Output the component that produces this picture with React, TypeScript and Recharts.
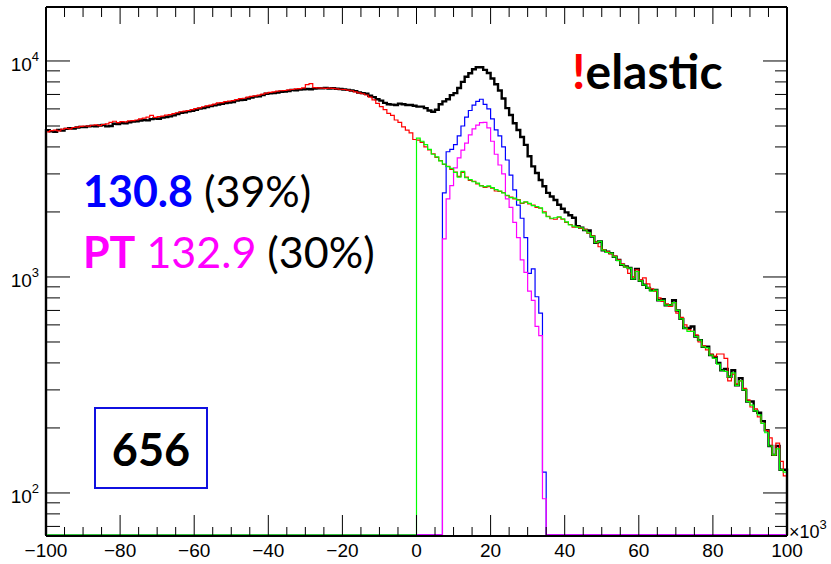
import React from "react";
import { ComposedChart, Line, XAxis, YAxis } from "recharts";

// histogram binning: 200 bins of width 1 (x10^3), lower edge of first bin
const FIRST_BIN = -100;
const LAST_EDGE = 100;

// total (black), bins -100 .. 99
const BLACK_COUNTS = [
  4780, 4720, 4700, 4800, 4760, 4850, 4880, 4860, 4920, 4950,
  4940, 4980, 5000, 4990, 5030, 5050, 4980, 5000, 5120, 5100,
  5160, 5140, 5200, 5240, 5260, 5300, 5330, 5310, 5380, 5420,
  5400, 5470, 5500, 5540, 5600, 5680, 5760, 5790, 5850, 5880,
  5950, 6020, 6050, 6120, 6180, 6240, 6290, 6330, 6390, 6420,
  6450, 6550, 6600, 6620, 6700, 6780, 6840, 6860, 6950, 7050,
  7080, 7100, 7150, 7200, 7220, 7260, 7340, 7320, 7380, 7400,
  7420, 7400, 7450, 7480, 7470, 7500, 7460, 7480, 7440, 7420,
  7380, 7350, 7300, 7250, 7150, 7100, 7050, 6900, 6800, 6650,
  6550, 6400, 6300, 6280, 6250, 6350, 6300, 6250, 6250, 6200,
  6150, 6150, 6050, 5900, 5820, 5950, 6300, 6500, 6650, 6950,
  7100, 7500, 8000, 8450, 8780, 9150, 9350, 9350, 9100, 8800,
  8300, 7800, 7300, 6700, 6050, 5620, 5150, 4790, 4450, 4090,
  3620, 3250, 3030, 2810, 2630, 2450, 2360, 2270, 2160, 2070,
  1990, 1930, 1880, 1720, 1690, 1650, 1640, 1540, 1440, 1460,
  1330, 1310, 1290, 1240, 1200, 1140, 1120, 1100, 980, 1090,
  960, 920, 890, 870, 870, 780, 790, 740, 740, 780,
  700, 640, 580, 580, 590, 530, 510, 475, 475, 435,
  425, 400, 370, 375, 345, 370, 315, 340, 300, 265,
  265, 240, 235, 215, 195, 165, 150, 165, 128, 128,
];

// red, bins -100 .. 99
const RED_COUNTS = [
  4700, 4760, 4790, 4750, 4840, 4880, 4850, 4920, 4940, 4980,
  5000, 4990, 5040, 5060, 5020, 5080, 5110, 5200, 5260, 5180,
  5240, 5220, 5280, 5300, 5330, 5400, 5440, 5500, 5600, 5480,
  5520, 5560, 5620, 5650, 5700, 5760, 5820, 5860, 5900, 5960,
  6020, 6060, 6140, 6200, 6240, 6310, 6400, 6420, 6480, 6520,
  6550, 6620, 6700, 6720, 6800, 6860, 6900, 6950, 7020, 7100,
  7150, 7200, 7250, 7280, 7300, 7350, 7380, 7420, 7450, 7500,
  7780, 7850, 7520, 7500, 7480, 7460, 7480, 7460, 7420, 7400,
  7380, 7330, 7280, 7200, 7120, 7050, 6960, 6800, 6600, 6370,
  6150, 5950, 5720, 5600, 5330, 5200, 4950, 4790, 4650, 4330,
  4300, 4200, 4000, 3880, 3720, 3580, 3460, 3320, 3250, 3150,
  3060, 2920, 3050, 2900, 2800, 2770, 2700, 2650, 2600, 2620,
  2580, 2500, 2490, 2460, 2380, 2340, 2300, 2280, 2190, 2220,
  2180, 2150, 2100, 2080, 2000, 1910, 1860, 1850, 1890, 1850,
  1790, 1750, 1700, 1710, 1680, 1660, 1590, 1550, 1450, 1380,
  1340, 1310, 1280, 1250, 1200, 1150, 1110, 1040, 1000, 1080,
  970, 990, 930, 880, 860, 800, 770, 750, 730, 760,
  680, 650, 600, 570, 560, 540, 500, 480, 460, 440,
  430, 440, 440, 420, 330, 355, 320, 330, 305, 270,
  250, 245, 225, 210, 195, 180, 150, 170, 140, 120,
];

// green, bins 0 .. 99
const GREEN_FIRST_BIN = 0;
const GREEN_COUNTS = [
  4390, 4250, 4100, 3900, 3700, 3600, 3450, 3330, 3240, 3180,
  3050, 2900, 3080, 2880, 2820, 2760, 2720, 2640, 2620, 2640,
  2590, 2540, 2500, 2450, 2390, 2330, 2320, 2270, 2200, 2230,
  2190, 2140, 2120, 2090, 1980, 1900, 1870, 1880, 1900, 1860,
  1800, 1740, 1720, 1700, 1690, 1650, 1600, 1540, 1440, 1460,
  1330, 1300, 1290, 1240, 1190, 1140, 1110, 1100, 980, 1060,
  960, 920, 890, 860, 870, 780, 780, 740, 740, 760,
  700, 640, 580, 560, 560, 530, 510, 475, 470, 435,
  420, 395, 370, 365, 345, 360, 315, 330, 300, 265,
  255, 240, 230, 210, 190, 165, 150, 160, 128, 125,
];

// peaks, bins 7 .. 34
const PEAK_FIRST_BIN = 7;
const BLUE_COUNTS = [
  2450, 3800, 3900, 4100, 4500, 5000, 5500, 5900, 6250, 6500,
  6650, 6300, 6000, 5400, 4800, 4500, 4000, 3480, 2960, 2530,
  2150, 1870, 1520, 1040, 1090, 810, 680, 125,
];
const MAGENTA_COUNTS = [
  1500, 2300, 2650, 3200, 3560, 3870, 4170, 4550, 4850, 5050,
  5180, 5200, 4900, 4250, 3700, 3300, 3000, 2300, 2100, 1790,
  1520, 1200, 1050, 860, 780, 590, 535, 94,
];

const X_MAJOR_TICKS = [-100, -80, -60, -40, -20, 0, 20, 40, 60, 80, 100];
const X_MINOR_STEP = 5;
const Y_TICKS = [
  70, 80, 90, 100, 200, 300, 400, 500, 600, 700, 800, 900,
  1000, 2000, 3000, 4000, 5000, 6000, 7000, 8000, 9000, 10000,
];
const Y_LABELS: Record<number, string> = { 100: "2", 1000: "3", 10000: "4" };

const Y_MIN = 63.2;
const Y_MAX = 17780;
const FLOOR = 63.9; // empty bins sit on the bottom of the frame, like ROOT

const X_TICKS: number[] = [];
for (let t = X_MAJOR_TICKS[0]; t <= LAST_EDGE; t += X_MINOR_STEP) X_TICKS.push(t);

function countAt(arr: number[], first: number, bin: number) {
  const i = bin - first;
  return i >= 0 && i < arr.length ? arr[i] : 0;
}

type Row = { x: number; black: number; red: number; green: number; blue: number; magenta: number };

const empty = (x: number): Row => ({ x, black: 0, red: 0, green: 0, blue: 0, magenta: 0 });

const rows: Row[] = [empty(FIRST_BIN)];
BLACK_COUNTS.forEach((b, i) => {
  const bin = FIRST_BIN + i;
  rows.push({
    x: bin,
    black: b,
    red: RED_COUNTS[i],
    green: countAt(GREEN_COUNTS, GREEN_FIRST_BIN, bin),
    blue: countAt(BLUE_COUNTS, PEAK_FIRST_BIN, bin),
    magenta: countAt(MAGENTA_COUNTS, PEAK_FIRST_BIN, bin),
  });
});
rows.push({ ...rows[rows.length - 1], x: LAST_EDGE });
rows.push(empty(LAST_EDGE));

const val = (key: keyof Row) => (d: Row) => (d[key] > 0 ? d[key] : FLOOR);

const AXIS_FONT = "'Liberation Sans', Arial, sans-serif";
const TEXT_FONT = "Lato, 'Open Sans', sans-serif";

const BottomTick = (props: any) => {
  const { x, y, payload } = props;
  const major = X_MAJOR_TICKS.includes(payload.value);
  const label = payload.value < 0 ? `\u2212${-payload.value}` : `${payload.value}`;
  return (
    <g>
      <line x1={x} x2={x} y1={y} y2={y - (major ? 21 : 9)} stroke="#000" strokeWidth={1} />
      {major && (
        <text x={x} y={y + 21} textAnchor="middle" fontFamily={AXIS_FONT} fontSize={19} fill="#000">
          {label}
        </text>
      )}
    </g>
  );
};

const TopTick = (props: any) => {
  const { x, y, payload } = props;
  const major = X_MAJOR_TICKS.includes(payload.value);
  return <line x1={x} x2={x} y1={y} y2={y + (major ? 17 : 10)} stroke="#000" strokeWidth={1} />;
};

const LeftTick = (props: any) => {
  const { x, y, payload } = props;
  const exp = Y_LABELS[payload.value];
  return (
    <g>
      <line x1={x} x2={x + (exp ? 24 : 14)} y1={y} y2={y} stroke="#000" strokeWidth={1} />
      {exp && (
        <text x={x - 7} y={y + 10} textAnchor="end" fontFamily={AXIS_FONT} fontSize={19} fill="#000">
          10
          <tspan dy={-10} fontSize={13}>
            {exp}
          </tspan>
        </text>
      )}
    </g>
  );
};

const RightTick = (props: any) => {
  const { x, y, payload } = props;
  const major = Y_LABELS[payload.value] !== undefined;
  return <line x1={x} x2={x - (major ? 24 : 12)} y1={y} y2={y} stroke="#000" strokeWidth={1} />;
};

export default function App() {
  return (
    <div style={{ position: "absolute", left: 0, top: 0, width: 831, height: 564, background: "#fff" }}>
      <ComposedChart width={831} height={564} data={rows} margin={{ top: 0, right: 0, bottom: 0, left: 0 }}>
        <XAxis
          dataKey="x"
          type="number"
          domain={[FIRST_BIN, LAST_EDGE]}
          ticks={X_TICKS}
          interval={0}
          height={28}
          tickSize={0}
          tickMargin={0}
          tickLine={false}
          tick={<BottomTick />}
          axisLine={{ stroke: "#000", strokeWidth: 2 }}
        />
        <XAxis
          xAxisId="top"
          orientation="top"
          dataKey="x"
          type="number"
          domain={[FIRST_BIN, LAST_EDGE]}
          ticks={X_TICKS}
          interval={0}
          height={7}
          tickSize={0}
          tickMargin={0}
          tickLine={false}
          tick={<TopTick />}
          axisLine={{ stroke: "#000", strokeWidth: 2 }}
        />
        <YAxis
          scale="log"
          domain={[Y_MIN, Y_MAX]}
          allowDataOverflow
          ticks={Y_TICKS}
          interval={0}
          width={46}
          tickSize={0}
          tickMargin={0}
          tickLine={false}
          tick={<LeftTick />}
          axisLine={{ stroke: "#000", strokeWidth: 2 }}
        />
        <YAxis
          yAxisId="right"
          orientation="right"
          scale="log"
          domain={[Y_MIN, Y_MAX]}
          allowDataOverflow
          ticks={Y_TICKS}
          interval={0}
          width={44}
          tickSize={0}
          tickMargin={0}
          tickLine={false}
          tick={<RightTick />}
          axisLine={{ stroke: "#000", strokeWidth: 2 }}
        />
        <Line dataKey={val("black")} type="stepAfter" stroke="#000" strokeWidth={2.4} dot={false} isAnimationActive={false} />
        <Line dataKey={val("red")} type="stepAfter" stroke="#ff0000" strokeWidth={1.2} dot={false} isAnimationActive={false} />
        <Line dataKey={val("blue")} type="stepAfter" stroke="#0000ff" strokeWidth={1.2} dot={false} isAnimationActive={false} />
        <Line dataKey={val("magenta")} type="stepAfter" stroke="#ff00ff" strokeWidth={1.2} dot={false} isAnimationActive={false} />
        <Line dataKey={val("green")} type="stepAfter" stroke="#00ff00" strokeWidth={1.2} dot={false} isAnimationActive={false} />
      </ComposedChart>

      <svg width={831} height={564} style={{ position: "absolute", left: 0, top: 0, pointerEvents: "none" }}>
        <text x={572} y={89} fontFamily={TEXT_FONT} fontWeight={700} fontSize={48}>
          <tspan fill="#ff0000">!</tspan>
          <tspan fill="#000">elastic</tspan>
        </text>
        <text x={83} y={207} fontFamily={TEXT_FONT} fontSize={43}>
          <tspan fill="#0000ff" fontWeight={700}>130.8</tspan>
          <tspan fill="#000"> (39%)</tspan>
        </text>
        <text x={83} y={268} fontFamily={TEXT_FONT} fontSize={43}>
          <tspan fill="#ff00ff" fontWeight={700}>PT</tspan>
          <tspan fill="#ff00ff"> 132.9</tspan>
          <tspan fill="#000"> (30%)</tspan>
        </text>
        <rect x={95} y={408} width={112} height={80} fill="none" stroke="#1010e0" strokeWidth={2} />
        <text x={151} y={466} textAnchor="middle" fontFamily={TEXT_FONT} fontWeight={700} fontSize={45} fill="#000">
          656
        </text>
        <text x={789} y={538} fontFamily={AXIS_FONT} fontSize={18} fill="#000">
          ×10
          <tspan dy={-9} fontSize={13}>
            3
          </tspan>
        </text>
      </svg>
    </div>
  );
}
